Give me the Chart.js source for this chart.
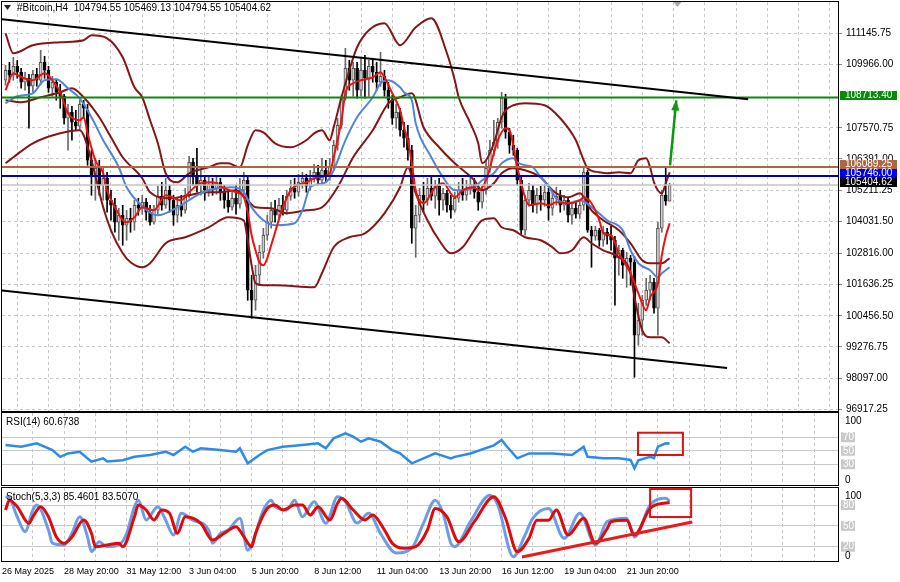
<!DOCTYPE html>
<html><head><meta charset="utf-8">
<script src="https://cdn.jsdelivr.net/npm/chart.js@4.4.1/dist/chart.umd.min.js"></script>
<style>
html,body{margin:0;padding:0;background:#fff;width:900px;height:582px;overflow:hidden;}
canvas{position:absolute;left:0;}
</style></head><body>
<canvas id="cMain" width="900" height="413" style="top:0px"></canvas>
<canvas id="cRsi" width="900" height="76" style="top:411px"></canvas>
<canvas id="cSto" width="900" height="96" style="top:486px"></canvas>
<script>
// ---------------- DATA ----------------
const symbolTitle = '#Bitcoin,H4';
const timeLabels = ['26 May 2025','28 May 20:00','31 May 12:00','3 Jun 04:00','5 Jun 20:00','8 Jun 12:00','11 Jun 04:00','13 Jun 20:00','16 Jun 12:00','19 Jun 04:00','21 Jun 20:00'];
const timeLabelBars = [-0.9,15,31,47,63,79,95,111,127,143,159];
const priceTicks = [111145.75,109966.00,107570.75,106391.00,105211.25,104031.50,102816.00,101636.25,100456.50,99276.75,98097.00,96917.25];

const candleOpen = [109368,109746,109557,109898,109671,109292,109443,109141,109595,109368,
110049,109746,109065,109292,108914,108762,107930,108157,107779,107627,
108460,108233,106341,105773,106038,105395,105659,104827,104638,103995,
104259,103881,104146,103995,104638,104524,104751,104373,103995,104449,
104978,104638,105205,104827,104259,104638,104449,105016,106265,105773,
105395,105584,105205,105432,105281,105508,105130,104827,104562,104903,
104676,105205,105584,101421,101043,101989,102859,103503,103995,104449,
104259,104638,104449,104978,105281,105130,105508,105659,105357,105659,
105887,105584,105962,105735,106114,106908,107665,108687,109822,109368,
109822,108989,109746,109443,109898,109671,109292,109519,108989,108611,
107930,108157,107476,107173,106719,103767,104259,105016,104827,105281,
104978,105357,104827,105092,104638,104449,104903,105205,105016,105281,
105432,105130,104751,105205,106038,106719,107022,107779,108687,107400,
106908,106719,105584,103692,104827,105205,104638,105016,104827,105130,
104524,104903,104978,104638,104827,104259,104524,104297,104638,105887,
103692,103465,103692,103313,103616,103465,103313,102632,102935,102367,
102632,102481,99719,100286,101043,101421,101724,100740,103767,105016,
104794.55];
const candleHigh = [109935,110049,110238,110125,109822,109671,109595,109746,109822,110503,
110276,109898,109519,109368,109216,108838,108460,108384,108233,108611,
108611,108460,106719,106416,106341,106038,105887,105205,104903,104524,
104638,104449,104524,104827,104903,105016,104903,104638,104638,105357,
105508,105659,105395,105016,104903,105016,105281,106492,106416,106795,
105962,105773,105735,105659,105773,105659,105395,105205,105130,105395,
105659,105887,105735,101989,102367,103124,103767,104259,104751,104827,
104903,105016,105205,105584,105659,105811,105887,105811,105962,106189,
106151,106416,106341,106416,107097,107930,108800,110579,110125,110049,
110049,110200,110314,110125,110125,110049,110427,109746,109292,108800,
108460,108308,107779,107665,106908,104638,105281,105508,105659,105735,
105584,105659,105281,105205,105016,105130,105508,105659,105584,105735,
105659,105395,105357,106341,107097,107854,107930,108914,108838,107551,
107287,106795,105735,105016,105470,105395,105281,105357,105432,105281,
105205,105319,105205,105016,104903,104751,104751,104827,106114,105962,
103843,103843,103767,103843,103767,103843,103465,103124,103011,102859,
102746,102708,100929,101232,101875,101989,101875,103995,105205,106038,
105469.13];
const candleLow = [109179,109292,109368,109443,109065,108989,107551,108914,109141,109216,
109443,108914,108762,108611,108308,107703,106719,107097,107476,107476,
107930,106151,105016,104827,105016,104827,104373,104070,103616,103313,
103124,103313,103616,103692,104259,104297,104070,103881,103919,104297,
104449,104524,104373,103881,103995,104222,104335,104903,105395,105130,
105016,104827,104978,105016,105054,104827,104524,104373,104449,104297,
104524,105054,101043,100362,100665,101611,102632,103313,103767,103995,
104146,104259,104297,104827,104903,104978,105281,105130,105205,105508,
105395,105432,105508,105584,105962,106719,107551,108611,108989,108762,
108687,108762,108687,108762,109292,108989,109141,108762,108308,107703,
107551,107249,106833,106341,103200,102670,103995,104373,104638,104827,
104524,104259,104449,104373,104146,104373,104751,104827,104827,105054,
104903,104449,104524,105054,105887,106492,106795,107551,107173,106605,
106530,105395,103540,103503,104600,104373,104335,104449,104600,104070,
104259,104638,104373,104449,103995,103919,104146,104146,104449,103616,
102292,103313,103086,103086,103162,102935,100854,101989,101875,101535,
101611,98129,99340,99719,100854,101043,100551,99719,103616,104638,
104794.55];
const candleClose = [109746,109557,109898,109671,109292,109443,109141,109595,109368,110049,
109746,109065,109292,108914,108762,107930,108157,107779,107627,108460,
108308,106341,105773,106038,105395,105659,104827,104638,103995,104259,
103881,104146,103995,104638,104524,104751,104373,103995,104449,104978,
104638,105205,104827,104259,104638,104449,105016,106265,105773,105395,
105584,105205,105432,105281,105508,105130,104827,104562,104903,104676,
105205,105584,101421,101043,101989,102859,103503,103995,104449,104259,
104638,104449,104978,105281,105130,105508,105659,105357,105659,105887,
105584,105962,105735,106114,106908,107665,108687,109822,109368,109822,
108989,109746,109443,109898,109671,109292,109519,108989,108611,107930,
108157,107476,107173,106719,103767,104259,105016,104827,105281,104978,
105357,104827,105092,104638,104449,104903,105205,105016,105281,105432,
105130,104751,105205,106038,106719,107022,107779,108687,107400,106908,
106719,105584,103692,104827,105205,104638,105016,104827,105130,104524,
104903,104978,104638,104827,104259,104524,104297,104638,105887,103692,
103465,103692,103313,103616,103465,103313,102632,102935,102367,102632,
102481,99719,100286,101043,101421,101724,100740,103767,105016,104789,
105404.62];

// indicator readings: [bar, value]
const maFast = [[0,108989],[2,109633],[4,109481],[7,109368],[10,109633],[12,109368],[14,108914],[16,108119],[19,107854],[20,107968],[21,107362],[23,106341],[25,105849],[26,105205],[28,104562],[30,104070],[31,103995],[33,104184],[35,104562],[38,104449],[41,105016],[45,104827],[47,105130],[50,105470],[53,105508],[56,105281],[59,105130],[61,104941],[62,104373],[63,103503],[64,102935],[65,102481],[66,102367],[67,102632],[68,103124],[69,103616],[71,104562],[73,105205],[77,105508],[80,105697],[83,105849],[84,106454],[86,107854],[87,108876],[89,109254],[91,109368],[94,109481],[96,109671],[97,109481],[99,108876],[101,108233],[102,107589],[103,107097],[104,106227],[105,105205],[107,104713],[110,105319],[112,105470],[115,104941],[117,105205],[120,105319],[121,105205],[123,105584],[125,106605],[126,107097],[128,107551],[129,107476],[131,106076],[133,104941],[134,104638],[137,104713],[139,104638],[141,104751],[144,104713],[147,104827],[148,104941],[150,104713],[152,104070],[153,103578],[155,103503],[157,102821],[160,102064],[162,101308],[164,100665],[165,101156],[167,101687],[168,102746],[169,103465],[170,103957]];
const maSlow = [[0,108497],[3,108762],[7,108876],[10,109368],[13,109406],[16,109065],[19,108687],[22,107968],[25,107097],[29,106076],[31,105319],[34,104751],[39,104259],[44,104562],[49,105016],[52,105205],[58,105319],[61,105130],[63,104562],[66,104070],[69,103881],[74,103957],[76,104449],[78,105319],[82,105508],[84,105962],[87,107097],[90,107968],[94,108725],[96,109254],[98,109368],[101,109103],[102,108914],[104,108611],[105,107741],[109,106454],[112,105697],[115,105205],[117,105205],[120,105319],[122,105584],[125,105849],[127,106227],[130,106416],[131,106265],[133,106151],[135,106076],[137,105697],[139,105357],[141,104900],[144,104713],[147,104827],[151,104449],[154,104070],[158,103692],[160,102935],[162,102443],[165,102178],[167,101913],[168,102064],[170,102292]];
const bandUpper = [[0,111146],[2,110389],[7,110692],[14,110806],[20,110881],[22,111071],[26,110957],[30,110238],[33,109103],[35,108725],[37,107854],[39,106984],[41,105849],[44,105508],[47,105849],[52,106076],[55,106227],[57,106227],[60,106076],[62,106908],[64,107476],[66,107400],[69,106984],[73,106833],[77,107097],[79,107362],[81,107476],[83,107097],[84,107589],[86,108725],[88,109746],[90,110617],[93,111260],[97,111525],[101,110692],[105,111373],[109,111714],[113,110389],[115,109368],[116,108725],[119,107741],[121,106984],[122,106227],[123,106341],[125,106984],[127,107968],[128,108233],[130,108421],[133,108497],[138,108421],[142,107930],[146,107097],[148,106341],[149,106038],[152,105887],[154,105849],[157,105887],[160,105849],[162,106341],[164,106416],[165,106076],[166,105508],[168,105092],[169,105470],[170,105887]];
const bandMiddle = [[0,108611],[4,108535],[9,108725],[14,108914],[17,109065],[20,108725],[24,107968],[27,107211],[30,106454],[35,105659],[37,105130],[42,104903],[47,105016],[51,105130],[55,105130],[59,105205],[62,104827],[64,104562],[68,104524],[72,104335],[77,104449],[81,104562],[85,105319],[89,106454],[94,107476],[98,108497],[101,108725],[104,108876],[107,107589],[111,106833],[115,106227],[120,105584],[122,105205],[125,105470],[127,105849],[130,106038],[133,105962],[137,105697],[140,105205],[141,105092],[144,104941],[147,105092],[150,104449],[153,104070],[157,103692],[160,103200],[163,102556],[165,102443],[168,102443],[170,102632]];
const bandLower = [[0,106227],[2,106454],[7,106984],[14,107362],[19,107476],[20,107287],[22,106341],[25,104562],[27,103692],[30,102821],[32,102481],[35,102292],[37,102443],[41,103200],[46,103427],[52,103805],[57,104184],[61,104070],[62,103313],[63,102367],[64,101687],[66,101611],[69,101611],[79,101535],[81,102064],[84,103049],[88,103427],[92,103578],[97,104335],[101,105319],[103,106076],[105,105092],[108,104070],[111,103313],[114,102821],[117,103049],[120,103692],[122,104070],[125,104146],[127,103805],[130,103692],[133,103427],[137,103313],[140,103049],[142,102821],[145,102935],[148,103427],[150,103200],[153,102935],[157,102670],[160,102064],[161,101157],[163,99907],[165,99643],[168,99643],[170,99416]];

const rsi14 = [[0,58.5],[4,56],[8,61],[12,51],[14,41],[16,46],[19,48.6],[22,33.8],[25,38.8],[26,34],[30,36],[33,41],[37,43.7],[41,48.6],[43,43.7],[46,56],[48,48.6],[50,53.6],[55,51],[59,48.6],[60,53.6],[62,31.4],[65,43.7],[67,51],[71,56],[76,58.5],[80,61],[82,53.6],[84,68.4],[87,75.8],[89,70.8],[91,63.4],[93,68.4],[96,63.4],[99,51],[101,46.2],[104,31.4],[107,38.8],[110,46.2],[114,38.8],[115,41],[119,46],[125,58],[127,66],[128,58.5],[131,38.8],[134,46],[140,46],[145,43.7],[148,56],[149,41],[153,38.8],[157,38.8],[160,36.3],[161,24],[162,36],[165,41],[166,39],[167,56],[169,61],[170,60.6738]];
const stochK = [[0,92],[1,90],[3,63],[5,41.6],[7,72.8],[8,80],[11,44],[12,25],[15,22.5],[17,39.5],[19,63],[21,34],[22,12.8],[24,27],[26,20],[29,22.5],[31,39],[33,77.6],[34,87],[36,58.4],[39,77.6],[41,58],[43,36.8],[45,68],[48,58],[52,44],[53,25],[55,39],[57,44],[60,61],[62,15],[63,22.5],[66,72.8],[68,87],[69,77.6],[72,72.8],[74,87],[76,63],[79,84.8],[82,53.6],[85,92],[87,84.8],[90,54],[93,68],[96,39],[100,11],[104,18],[107,54],[110,87],[112,68],[114,25],[115,20],[119,56],[124,94],[126,80],[130,5.6],[133,37],[135,61],[139,75],[143,32],[147,68],[151,22.5],[154,56],[159,61],[161,34],[165,80],[169,89.6],[170,85.4601]];
const stochD = [[0,72.8],[1,87],[3,77.6],[6,53.6],[7,63],[9,77.6],[11,63],[13,34.4],[15,25],[17,34],[20,58.4],[22,39.3],[23,20],[26,22.5],[29,25],[30,20],[33,63],[34,80],[36,72.8],[38,58.4],[40,72.8],[42,68],[44,39.3],[46,63],[50,53.6],[53,29.6],[56,39.3],[59,48.8],[61,34.4],[63,20],[64,39],[67,75],[69,80],[71,72.8],[74,80],[76,80],[78,65.6],[80,77.6],[83,58.4],[85,82.4],[86,89.6],[89,72.8],[92,58.4],[94,65.6],[97,44],[99,25],[102,17.7],[105,20],[108,44],[110,75],[113,63],[116,27],[120,56],[125,92],[128,61],[131,12.8],[134,32],[136,58],[139,58],[141,72.8],[144,36.8],[148,61],[151,25],[154,46],[155,56],[159,58],[161,36.8],[165,75],[169,83],[170,83.5070]];

// drawn objects (bar, price / value)
const levelGreen = 108713.40, levelBrown = 106089.25, levelBlue = 105746.00;
const channelTop = [[-0.9,111676],[190.1,108649]];
const channelBottom = [[-0.9,101414],[184.7,98477]];
const targetArrow = [[170.1,106151],[171.7,108611]];
const stochTrend = [[132.2,5.2],[175.8,55.5]];
const rsiMarkBox = [161.9,173.4,43.7,76.7];
const stochMarkBox = [165.0,175.5,62.7,103];
const rsiLevels = [30,50,70], stochLevels = [20,50,80];

// ---------------- CHART SETUP ----------------
const X_MIN = -0.9, X_MAX = 213.1;
const gridBars = [];
for (let b = 7; b <= 211; b += 8) gridBars.push(b);
const FONT = '"Liberation Sans", Arial, sans-serif';
Chart.defaults.font.family = FONT;
Chart.defaults.font.size = 10;
Chart.defaults.color = '#000';

const lastIdx = candleClose.length - 1;
const isBull = i => candleClose[i] >= candleOpen[i];
const pts = arr => arr.map(p => ({x: p[0], y: p[1]}));
const lineDs = (arr, color, width, order, extra) => Object.assign({
  type: 'line', data: pts(arr), borderColor: color, borderWidth: width, pointRadius: 0,
  fill: false, order, cubicInterpolationMode: 'monotone'
}, extra || {});
const hLine = (v, color, width, order) => lineDs([[X_MIN, v],[X_MAX, v]], color, width, order);

function xScale(showLabels) {
  return {
    type: 'linear', min: X_MIN, max: X_MAX, offset: false,
    afterBuildTicks: s => { s.ticks = [X_MIN].concat(gridBars).map(v => ({value: v})); },
    grid: { color: c => (c.tick && c.tick.value === X_MIN) ? 'rgba(0,0,0,0)' : '#c6c6c6', lineWidth: 1, drawTicks: false },
    border: { display: false, dash: [3, 3] },
    ticks: { display: showLabels, autoSkip: false, maxRotation: 0, minRotation: 0, align: 'start', padding: 5, color: '#000',
      font: { size: 9 },
      callback: v => { const k = timeLabelBars.indexOf(v); return k >= 0 ? timeLabels[k] : ''; } },
    afterFit: s => { s.height = showLabels ? 21 : 0; s.paddingLeft = 0; s.paddingRight = 0; }
  };
}
const baseOpts = (pad) => ({
  responsive: false, animation: false, devicePixelRatio: 1, events: [],
  layout: { padding: pad },
  plugins: { legend: { display: false }, tooltip: { enabled: false } }
});

function frame(ctx, a) {
  ctx.strokeStyle = '#000'; ctx.lineWidth = 1;
  ctx.strokeRect(a.left - 0.5, a.top - 0.5, a.right - a.left + 1, a.bottom - a.top + 1);
}

// ---------- main chart ----------
const mainDecor = {
  id: 'mainDecor',
  afterDraw(chart) {
    const {ctx, chartArea: a, scales: {x, y}} = chart;
    ctx.save();
    frame(ctx, a);
    // arrow head
    const fx = x.getPixelForValue(targetArrow[0][0]), fy = y.getPixelForValue(targetArrow[0][1]);
    const tx = x.getPixelForValue(targetArrow[1][0]), ty = y.getPixelForValue(targetArrow[1][1]);
    const ang = Math.atan2(ty - fy, tx - fx);
    ctx.fillStyle = '#0a9a0a';
    ctx.beginPath();
    ctx.moveTo(tx, ty);
    ctx.lineTo(tx - 11 * Math.cos(ang - 0.38), ty - 11 * Math.sin(ang - 0.38));
    ctx.lineTo(tx - 11 * Math.cos(ang + 0.38), ty - 11 * Math.sin(ang + 0.38));
    ctx.closePath(); ctx.fill();
    // header
    ctx.fillStyle = '#222';
    ctx.beginPath(); ctx.moveTo(4, 5); ctx.lineTo(11, 5); ctx.lineTo(7.5, 10); ctx.closePath(); ctx.fill();
    ctx.fillStyle = '#000'; ctx.font = '10px ' + FONT; ctx.textBaseline = 'middle'; ctx.textAlign = 'left';
    const f = v => v.toFixed(2);
    ctx.fillText(symbolTitle + '  ' + f(candleOpen[lastIdx]) + ' ' + f(candleHigh[lastIdx]) + ' ' + f(candleLow[lastIdx]) + ' ' + f(candleClose[lastIdx]), 17, 8);
    // shift marker
    const sx = x.getPixelForValue(172);
    ctx.fillStyle = '#a8a8a8';
    ctx.beginPath(); ctx.moveTo(sx - 4, a.top); ctx.lineTo(sx + 4, a.top); ctx.lineTo(sx, a.top + 5); ctx.closePath(); ctx.fill();
    // price boxes
    const boxes = [[levelGreen, '#0a8a0a'], [levelBrown, '#b0653f'], [levelBlue, '#0000f0'], [candleClose[lastIdx], '#000']];
    boxes.forEach(([v, col]) => {
      const py = Math.round(y.getPixelForValue(v));
      ctx.fillStyle = col; ctx.fillRect(840, py - 7, 57, 9);
      ctx.fillStyle = '#fff'; ctx.fillText(v.toFixed(2), 845, py - 2.5);
    });
    ctx.restore();
  }
};

new Chart(document.getElementById('cMain'), {
  type: 'line',
  data: { datasets: [
    { type: 'bar', data: candleHigh.map((h, i) => ({x: i, y: [candleLow[i], h]})), backgroundColor: c => isBull(c.dataIndex) ? '#6a6a6a' : '#000', barThickness: 1, grouped: false, order: 10 },
    { type: 'bar', data: candleOpen.map((o, i) => ({x: i, y: [o, candleClose[i]]})), backgroundColor: c => isBull(c.dataIndex) ? '#d0d0d0' : '#000', borderColor: c => isBull(c.dataIndex) ? '#555' : '#000', borderWidth: 1, borderSkipped: false, barThickness: 3, grouped: false, order: 9 },
    lineDs(bandUpper, '#861616', 2, 8),
    lineDs(bandMiddle, '#861616', 2, 8),
    lineDs(bandLower, '#861616', 2, 8),
    lineDs(maSlow, '#4f85da', 2, 7),
    lineDs(maFast, '#ec1212', 2, 6),
    hLine(candleClose[lastIdx], '#c4c4c4', 1.5, 5.5),
    hLine(levelGreen, '#0a8a0a', 2, 5),
    hLine(levelBrown, '#b0653f', 2, 5),
    hLine(levelBlue, '#0000b8', 2, 5),
    lineDs(channelTop, '#000', 2, 4),
    lineDs(channelBottom, '#000', 2, 4),
    lineDs(targetArrow, '#0a9a0a', 2.5, 3)
  ]},
  options: Object.assign(baseOpts({left: 2, top: 2, bottom: 2, right: 0}), {
    scales: {
      x: xScale(false),
      y: { type: 'linear', position: 'right', min: 96853, max: 112330,
        afterBuildTicks: s => { s.ticks = priceTicks.map(v => ({value: v})); },
        grid: { color: '#c6c6c6', drawTicks: true, tickLength: 4, tickColor: '#888' },
        border: { display: false, dash: [3, 3] },
        ticks: { color: '#000', padding: 4, callback: v => Number(v).toFixed(2) },
        afterFit: s => { s.width = 62; s.paddingTop = 0; s.paddingBottom = 0; } }
    }
  }),
  plugins: [mainDecor]
});

// ---------- sub panels ----------
function panelDecor(id, title, labels, levels, box) {
  return {
    id,
    afterDraw(chart) {
      const {ctx, chartArea: a, scales: {x, y}} = chart;
      ctx.save();
      frame(ctx, a);
      ctx.font = '10px ' + FONT; ctx.textBaseline = 'middle'; ctx.textAlign = 'left';
      ctx.fillStyle = '#000'; ctx.fillText(title, 6, a.top + 9);
      labels.forEach(v => {
        const py = Math.min(Math.max(y.getPixelForValue(v), a.top + 8), a.bottom - 5);
        if (levels.indexOf(v) >= 0) {
          ctx.fillStyle = '#c9c9c9'; ctx.fillRect(841, py - 5, 14, 10);
          ctx.fillStyle = '#fff'; ctx.fillText(String(v), 843, py);
        } else {
          ctx.fillStyle = '#000'; ctx.fillText(String(v), 845, py);
        }
      });
      const x0 = x.getPixelForValue(box[0]), x1 = x.getPixelForValue(box[1]);
      const y0 = y.getPixelForValue(box[3]), y1 = y.getPixelForValue(box[2]);
      ctx.strokeStyle = '#e01010'; ctx.lineWidth = 2;
      ctx.strokeRect(x0, y0, x1 - x0, y1 - y0);
      ctx.restore();
    }
  };
}
function panelY(min, max, levels) {
  return { type: 'linear', position: 'right', min, max,
    afterBuildTicks: s => { s.ticks = levels.map(v => ({value: v})); },
    grid: { color: '#c8c8c8', drawTicks: false, lineWidth: 1 },
    border: { display: false },
    ticks: { display: false },
    afterFit: s => { s.width = 62; s.paddingTop = 0; s.paddingBottom = 0; } };
}

const rsiLast = rsi14[rsi14.length - 1][1];
new Chart(document.getElementById('cRsi'), {
  type: 'line',
  data: { datasets: [ lineDs(rsi14, '#2e8ae8', 2.5, 1, {cubicInterpolationMode: 'default', tension: 0}) ] },
  options: Object.assign(baseOpts({left: 2, top: 2, bottom: 2, right: 0}), {
    scales: { x: xScale(false), y: panelY(-0.7, 105.9, rsiLevels) }
  }),
  plugins: [panelDecor('rsiDecor', 'RSI(14) ' + rsiLast.toFixed(4), [100, 70, 50, 30, 0], rsiLevels, rsiMarkBox)]
});

const kLast = stochK[stochK.length - 1][1], dLast = stochD[stochD.length - 1][1];
new Chart(document.getElementById('cSto'), {
  type: 'line',
  data: { datasets: [
    lineDs(stochK, '#6b9de6', 3, 3),
    lineDs(stochD, '#e00a0a', 3, 2),
    lineDs(stochTrend, '#e81c1c', 3, 1)
  ]},
  options: Object.assign(baseOpts({left: 2, top: 2, bottom: 0, right: 0}), {
    scales: { x: xScale(true), y: panelY(-0.6, 104.5, stochLevels) }
  }),
  plugins: [panelDecor('stoDecor', 'Stoch(5,3,3) ' + kLast.toFixed(4) + ' ' + dLast.toFixed(4), [100, 80, 50, 20, 0], stochLevels, stochMarkBox)]
});
</script>
</body></html>
